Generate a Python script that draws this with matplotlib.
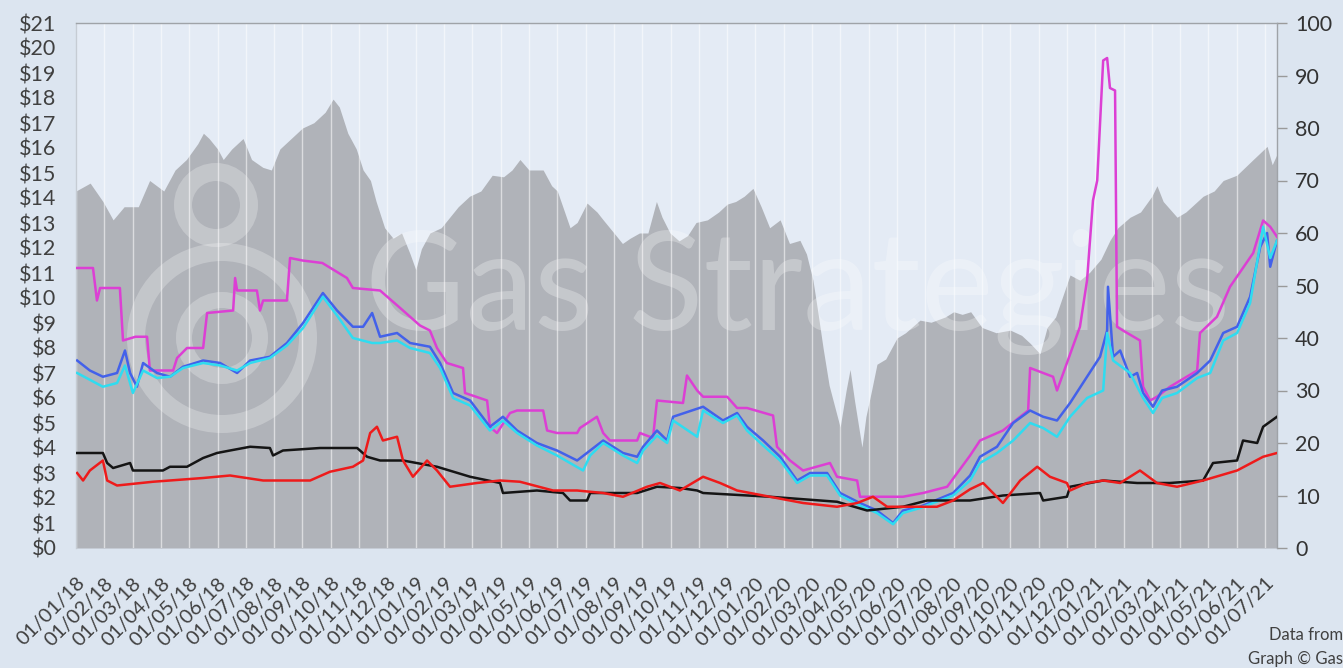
import matplotlib
matplotlib.use("Agg")
import matplotlib.pyplot as plt
from matplotlib.patches import Circle
from matplotlib.transforms import IdentityTransform

plt.rcParams['font.family'] = ['Lato', 'DejaVu Sans']

# time axis: months since 01/01/18
years = ['18', '19', '20', '21']
tick_labels = [f"01/{m:02d}/{y}" for y in years for m in range(1, 13)][:43]

# ---- oil price (right axis, grey area) ----
oil_t = [0.0, 0.5, 0.95, 1.31, 1.7, 2.2, 2.6, 3.1, 3.5, 3.9, 4.3, 4.5, 4.7, 5.0, 5.2, 5.5, 5.9,
         6.2, 6.6, 6.9, 7.2, 7.6, 8.0, 8.4, 8.8, 9.08, 9.3, 9.6, 9.9, 10.14, 10.4, 10.6, 10.9,
         11.2, 11.5, 11.8, 12.0, 12.2, 12.5, 12.9, 13.2, 13.5, 13.9, 14.3, 14.7, 15.1, 15.4,
         15.68, 16.0, 16.5, 16.8, 17.0, 17.45, 17.7, 18.05, 18.4, 18.62, 19.0, 19.3, 19.57,
         19.9, 20.2, 20.5, 20.7, 20.98, 21.3, 21.6, 21.9, 22.3, 22.7, 23.0, 23.3, 23.6, 23.91,
         24.2, 24.5, 24.87, 25.2, 25.57, 25.8, 26.03, 26.2, 26.39, 26.6, 26.99, 27.2, 27.34,
         27.5, 27.76, 27.9, 28.1, 28.29, 28.6, 29.0, 29.3, 29.81, 30.2, 30.7, 31.0, 31.3, 31.6,
         32.0, 32.5, 33.0, 33.4, 33.7, 34.05, 34.3, 34.6, 35.11, 35.46, 35.8, 36.2, 36.52,
         36.8, 37.23, 37.6, 38.0, 38.18, 38.4, 38.89, 39.2, 39.81, 40.2, 40.52, 41.0, 41.58,
         42.07, 42.25, 42.42]
oil_v = [68, 69.5, 66, 62.5, 65, 65, 70, 68, 72, 74, 77, 79, 78, 76, 74, 76, 78,
         74, 72.5, 72, 76, 78, 80, 81, 83, 85.5, 84, 79, 76, 72, 70, 66, 61,
         59, 60, 56, 53, 57, 60, 61, 63, 65, 67, 68, 71, 70.7, 72,
         74, 72, 72, 69, 68, 61, 62, 65.7, 64, 62.5, 60, 58, 59,
         60, 60, 66, 63, 60, 58.5, 59.5, 62, 62.5, 64, 65.5, 66, 67, 68.5,
         65, 61, 62.5, 58, 58.6, 56, 51, 45, 38, 31, 23, 30, 34,
         28, 19.2, 25, 30, 35, 36, 40, 41, 43.4, 43, 44, 45, 44.5, 45,
         42, 41, 41.5, 40.5, 39, 37, 42, 44, 52, 51, 52.5, 55, 58.6,
         61, 63, 64, 67, 69, 66, 63, 64, 67, 68, 70, 71, 74,
         76.5, 73, 75]

# ---- gas prices (left axis, $/MMBtu) ----
magenta_t = [0.0, 0.6, 0.74, 0.85, 1.55, 1.66, 2.1, 2.51, 2.61, 3.43, 3.57, 3.92, 4.49, 4.63,
             5.55, 5.62, 5.69, 6.39, 6.5, 6.61, 7.45, 7.56, 8.0, 8.7, 9.57, 9.78, 10.74, 11.45,
             12.15, 12.5, 12.75, 13.1, 13.67, 13.74, 14.52, 14.62, 14.87, 15.33, 15.58, 16.5,
             16.64, 16.99, 17.7, 17.8, 18.4, 18.62, 18.86, 19.82, 19.92, 20.38, 20.52, 21.44,
             21.58, 21.94, 22.15, 23.0, 23.35, 23.7, 24.62, 24.76, 25.22, 25.68, 26.63, 26.88,
             27.59, 27.69, 29.21, 29.92, 30.77, 31.58, 31.93, 32.74, 33.35, 33.63, 33.7, 34.51,
             34.65, 35.0, 35.46, 35.71, 35.92, 36.07, 36.28, 36.42, 36.52, 36.7, 36.77, 36.98,
             37.58, 37.69, 37.94, 38.18, 38.64, 39.6, 39.7, 40.3, 40.76, 41.58, 41.93, 42.18, 42.42]
magenta_v = [11.2, 11.2, 9.9, 10.4, 10.4, 8.3, 8.45, 8.45, 7.1, 7.1, 7.6, 8.0, 8.0, 9.4,
             9.5, 10.8, 10.3, 10.3, 9.5, 9.9, 9.9, 11.6, 11.5, 11.4, 10.8, 10.4, 10.3, 9.6,
             8.9, 8.7, 8.0, 7.4, 7.2, 6.2, 5.9, 4.85, 4.6, 5.4, 5.5, 5.5,
             4.7, 4.6, 4.6, 4.8, 5.25, 4.6, 4.3, 4.3, 4.6, 4.4, 5.9, 5.8,
             6.9, 6.3, 6.05, 6.05, 5.6, 5.6, 5.3, 4.05, 3.5, 3.1, 3.4, 2.85,
             2.7, 2.05, 2.05, 2.2, 2.45, 3.7, 4.3, 4.7, 5.25, 5.5, 7.2, 6.85,
             6.3, 7.4, 8.85, 10.7, 13.9, 14.7, 19.5, 19.6, 18.4, 18.3, 8.85, 8.7,
             8.3, 6.45, 5.9, 6.05, 6.45, 7.1, 8.6, 9.25, 10.45, 11.8, 13.1, 12.85, 12.45]

blue_t = [0.04, 0.49, 0.95, 1.45, 1.73, 1.91, 2.15, 2.37, 2.86, 3.32, 3.78, 4.49, 5.09, 5.69,
          6.15, 6.85, 7.45, 8.02, 8.72, 9.22, 9.78, 10.14, 10.46, 10.74, 11.34, 11.8, 12.5,
          12.86, 13.32, 13.92, 14.62, 15.08, 15.58, 16.28, 16.99, 17.7, 18.16, 18.62, 19.32,
          19.82, 20.03, 20.52, 20.88, 21.09, 22.15, 22.85, 23.35, 23.7, 24.27, 24.87, 25.47,
          25.93, 26.53, 26.99, 27.69, 28.29, 28.86, 29.21, 29.81, 30.98, 31.58, 31.93, 32.53,
          33.1, 33.7, 34.16, 34.65, 35.11, 35.71, 36.17, 36.42, 36.45, 36.63, 36.88, 37.23,
          37.48, 37.69, 38.04, 38.36, 38.89, 39.6, 40.06, 40.52, 41.01, 41.47, 41.83, 42.07,
          42.18, 42.42]
blue_v = [7.5, 7.1, 6.85, 7.0, 7.9, 7.0, 6.45, 7.4, 7.0, 6.85, 7.25, 7.5, 7.4, 7.0,
          7.5, 7.65, 8.2, 9.0, 10.2, 9.5, 8.85, 8.85, 9.4, 8.45, 8.6, 8.2, 8.05,
          7.4, 6.2, 5.9, 4.85, 5.25, 4.7, 4.2, 3.9, 3.5, 3.9, 4.3, 3.8,
          3.65, 4.05, 4.7, 4.3, 5.25, 5.65, 5.1, 5.4, 4.85, 4.3, 3.65, 2.7,
          3.0, 3.0, 2.2, 1.8, 1.5, 1.0, 1.5, 1.65, 2.2, 2.9, 3.65, 4.05,
          5.0, 5.5, 5.25, 5.1, 5.8, 6.85, 7.65, 8.7, 10.45, 7.65, 7.9, 6.85,
          7.0, 6.2, 5.65, 6.3, 6.45, 7.0, 7.5, 8.6, 8.85, 10.05, 12.05, 12.6,
          11.25, 12.3]

cyan_t = [0.04, 0.95, 1.45, 1.73, 2.01, 2.37, 2.86, 3.32, 3.78, 4.49, 5.09, 5.69, 6.15, 6.85,
          7.45, 8.02, 8.72, 9.22, 9.78, 10.46, 10.74, 11.34, 11.8, 12.5, 12.86, 13.32, 13.92,
          14.62, 15.08, 15.58, 16.28, 16.99, 17.91, 18.16, 18.62, 19.32, 19.82, 20.03, 20.52,
          20.88, 21.09, 21.94, 22.15, 22.85, 23.35, 23.7, 24.27, 24.87, 25.47, 25.93, 26.53,
          26.99, 27.69, 28.29, 28.86, 29.21, 29.81, 30.98, 31.58, 31.93, 32.53, 33.1, 33.7,
          34.16, 34.65, 35.11, 35.71, 36.28, 36.42, 36.63, 37.23, 37.69, 38.04, 38.36, 38.89,
          39.6, 40.06, 40.52, 41.01, 41.47, 41.93, 42.18, 42.42]
cyan_v = [7.0, 6.45, 6.6, 7.3, 6.2, 7.1, 6.8, 6.85, 7.2, 7.4, 7.3, 7.1, 7.4, 7.6,
          8.1, 8.8, 10.05, 9.3, 8.4, 8.2, 8.2, 8.3, 8.0, 7.8, 7.2, 6.0, 5.7,
          4.7, 5.1, 4.6, 4.1, 3.7, 3.1, 3.7, 4.2, 3.7, 3.4, 3.9, 4.5,
          4.2, 5.1, 4.45, 5.5, 5.0, 5.3, 4.7, 4.1, 3.5, 2.6, 2.9, 2.9,
          2.1, 1.7, 1.4, 0.95, 1.4, 1.6, 2.1, 2.7, 3.4, 3.8, 4.3, 5.0,
          4.8, 4.45, 5.25, 6.0, 6.3, 8.6, 7.5, 7.0, 6.0, 5.4, 6.0, 6.2,
          6.8, 7.0, 8.3, 8.6, 9.8, 12.85, 11.6, 12.3]

red_t = [0.04, 0.25, 0.49, 0.95, 1.1, 1.45, 2.72, 4.49, 5.44, 6.61, 8.27, 8.97, 9.78, 10.14,
         10.39, 10.63, 10.84, 11.34, 11.55, 11.9, 12.4, 12.75, 13.21, 14.16, 14.98, 15.68,
         16.85, 17.7, 18.62, 19.32, 20.17, 20.63, 21.33, 22.15, 22.75, 23.35, 24.51, 25.68,
         26.88, 27.59, 28.15, 28.65, 29.21, 30.41, 30.98, 31.58, 32.04, 32.74, 33.35, 33.95,
         34.4, 35.0, 35.11, 35.71, 36.28, 36.88, 37.58, 38.18, 38.89, 39.81, 41.01, 41.93, 42.42]
red_v = [3.0, 2.7, 3.1, 3.5, 2.7, 2.5, 2.65, 2.8, 2.9, 2.7, 2.7, 3.05, 3.25, 3.5,
         4.6, 4.85, 4.3, 4.45, 3.5, 2.85, 3.5, 3.1, 2.45, 2.6, 2.7, 2.65,
         2.3, 2.3, 2.2, 2.05, 2.45, 2.6, 2.3, 2.85, 2.6, 2.3, 2.05, 1.8,
         1.65, 1.8, 2.05, 1.65, 1.65, 1.65, 1.9, 2.35, 2.6, 1.8, 2.7, 3.25,
         2.85, 2.6, 2.3, 2.6, 2.7, 2.6, 3.1, 2.6, 2.45, 2.7, 3.1, 3.65, 3.8]

black_t = [0.04, 0.95, 1.1, 1.31, 1.91, 2.01, 3.07, 3.32, 3.92, 4.49, 4.98, 5.44, 6.15, 6.85,
           6.96, 7.31, 8.62, 9.93, 10.28, 10.74, 11.55, 12.75, 13.92, 14.98, 15.08, 16.28,
           17.2, 17.45, 18.05, 18.16, 19.82, 20.52, 21.33, 21.94, 22.15, 24.51, 26.88, 27.94,
           29.21, 30.06, 31.58, 32.74, 34.05, 34.16, 35.0, 35.11, 36.28, 37.48, 38.64, 39.81,
           40.16, 41.01, 41.22, 41.72, 41.93, 42.42]
black_v = [3.8, 3.8, 3.4, 3.2, 3.4, 3.1, 3.1, 3.25, 3.25, 3.6, 3.8, 3.9, 4.05, 4.0,
           3.7, 3.9, 4.0, 4.0, 3.65, 3.5, 3.5, 3.25, 2.85, 2.6, 2.2, 2.3,
           2.2, 1.9, 1.9, 2.2, 2.2, 2.45, 2.4, 2.3, 2.2, 2.05, 1.85, 1.5,
           1.65, 1.9, 1.9, 2.1, 2.2, 1.9, 2.05, 2.45, 2.7, 2.6, 2.6, 2.7,
           3.4, 3.5, 4.3, 4.2, 4.85, 5.25]

left_ticks = list(range(0, 22))
left_labels = [f"${v}" for v in left_ticks]
right_ticks = list(range(0, 101, 10))

# ---- figure ----
W, H = 1343, 668
fig = plt.figure(figsize=(W / 100, H / 100), dpi=100)
fig.patch.set_facecolor('#dce5f0')

ax = fig.add_axes([76 / W, 1 - 548 / H, (1277 - 76) / W, (548 - 23) / H])
ax.set_facecolor('#e4ebf5')
ax.fill_between(oil_t, oil_v, 0, color='#b0b3b9', lw=0, zorder=1)
ax.set_ylim(0, 100)
ax.set_xlim(0, 42.42)

# grid lines
for i in range(len(tick_labels)):
    ax.axvline(i, color='white', lw=1.0, alpha=0.55, zorder=1.5)

# watermark
ax.text(365 / W, 1 - 330 / H, "Gas Strategies", transform=fig.transFigure,
        fontsize=99, color='white', alpha=0.28, ha='left', va='baseline', zorder=2)
for (cx, cy, r, w) in [(216, 205, 33, 18), (222, 338, 38, 16), (222, 338, 86, 18)]:
    c = Circle((cx, H - cy), r, transform=IdentityTransform(), fill=False,
               edgecolor='white', lw=w / 1.389, alpha=0.25, zorder=2)
    ax.add_patch(c)

ax.set_xticks(range(len(tick_labels)))
ax.set_xticklabels(tick_labels, rotation=45, ha='right', va='top', rotation_mode='anchor',
                   fontsize=14.5, color='#404040')
ax.tick_params(axis='x', length=0, pad=19)

ax2 = ax.twinx()
ax.yaxis.tick_right()
ax.set_yticks(right_ticks)
ax.set_yticklabels([str(v) for v in right_ticks], fontsize=15.5, color='#333333')
ax.tick_params(axis='y', which='both', direction='out', length=7, width=1, color='#9a9a9a', pad=6)

ax2.yaxis.tick_left()
ax2.set_ylim(0, 21)
ax2.set_yticks(left_ticks)
ax2.set_yticklabels(left_labels, fontsize=15.5, color='#404040')
ax2.tick_params(axis='y', length=0, pad=14)

ax2.plot(magenta_t, magenta_v, color='#dc3fd4', lw=1.8, zorder=3)
ax2.plot(blue_t, blue_v, color='#4361ea', lw=1.8, zorder=4)
ax2.plot(cyan_t, cyan_v, color='#2fdcf0', lw=1.8, zorder=5)
ax2.plot(black_t, black_v, color='#151515', lw=1.8, zorder=6)
ax2.plot(red_t, red_v, color='#ee1b1b', lw=1.8, zorder=7)

for s in ax2.spines.values():
    s.set_visible(False)
for name, s in ax.spines.items():
    s.set_color('#9fa3a8')
    s.set_linewidth(1)
ax.spines['bottom'].set_visible(False)
ax.spines['left'].set_color('#c6ccd4')

fig.text(1343 / W, 1 - 635 / H, "Data from", ha='right', va='center', fontsize=12, color='#404040')
fig.text(1343 / W, 1 - 659 / H, "Graph \u00a9 Gas", ha='right', va='center', fontsize=12, color='#404040')

fig.savefig('out.png', dpi=100, facecolor=fig.get_facecolor())
